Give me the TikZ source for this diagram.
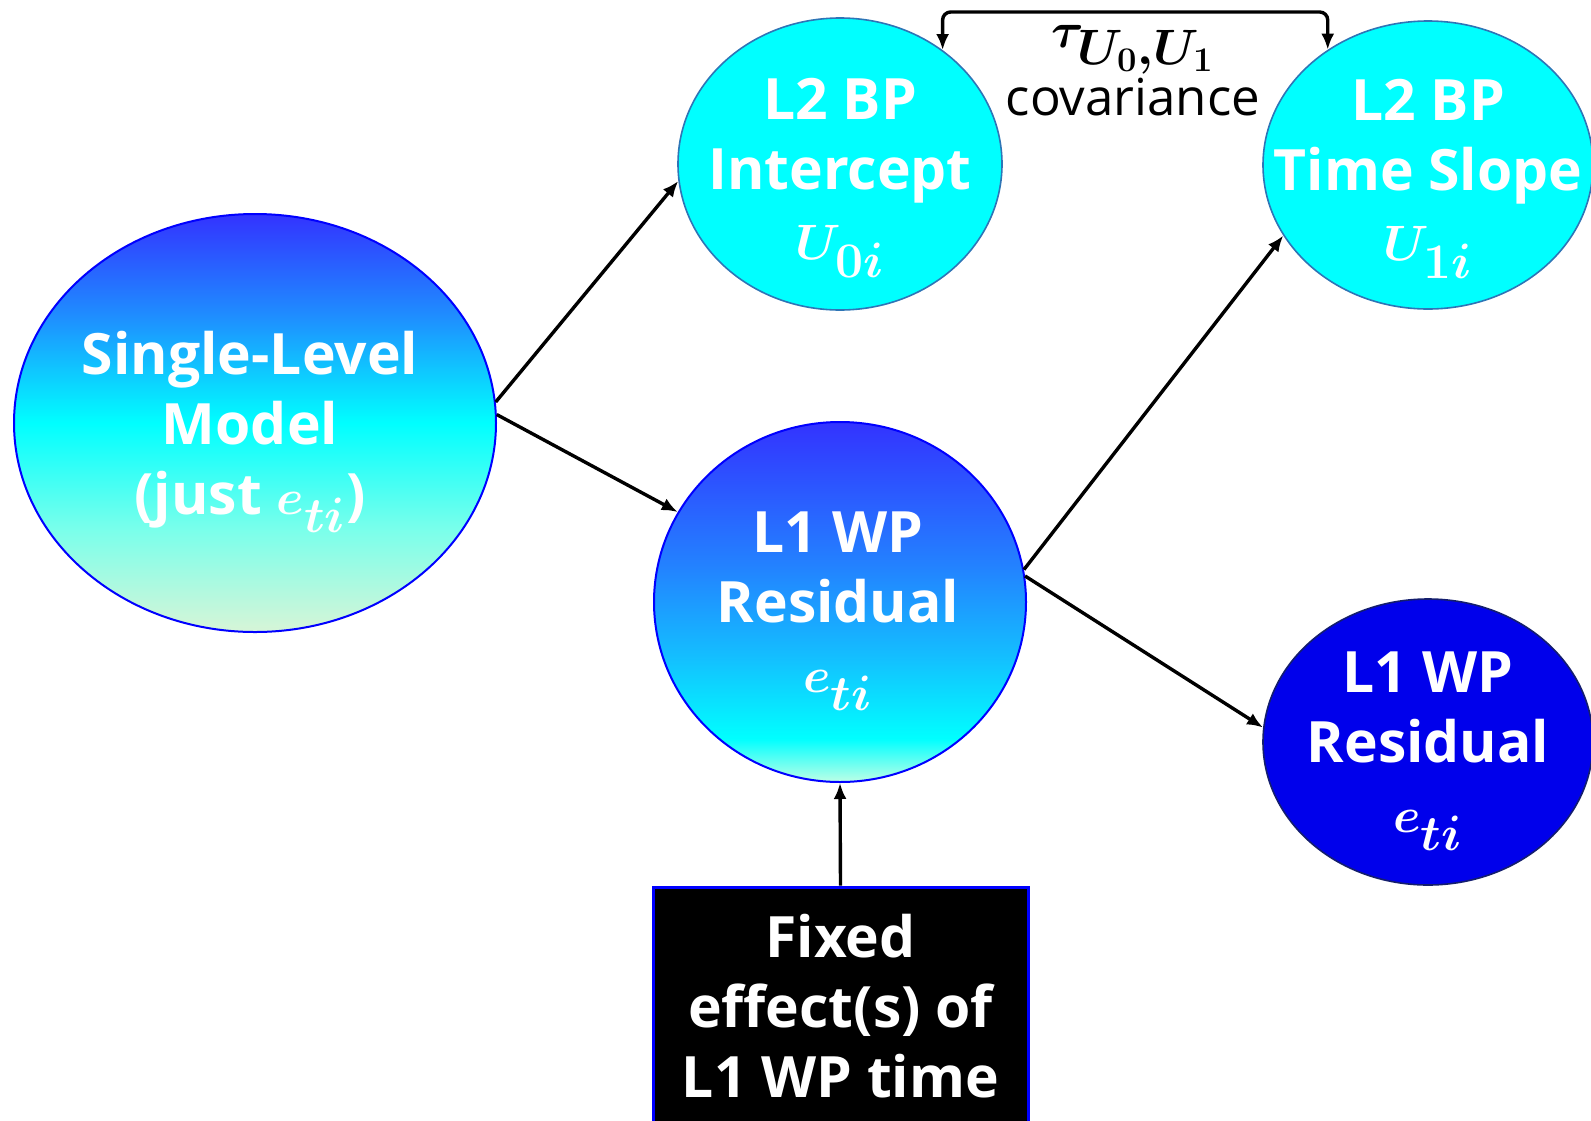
\documentclass[tikz,border=0pt]{standalone}
\usepackage{amsmath,amssymb,bm}
\usepackage{fontspec}
\setmainfont{Open Sans}
\usetikzlibrary{positioning,arrows.meta,shapes.geometric}

\definecolor{ovalblue}{RGB}{0,0,255}
\definecolor{deepblue}{RGB}{0,0,235}
\definecolor{navyedge}{RGB}{20,30,110}
\definecolor{skyedge}{RGB}{46,117,182}
\definecolor{aqua}{RGB}{0,255,255}
\definecolor{gtop}{RGB}{51,51,255}
\definecolor{gsky}{RGB}{30,144,255}
\definecolor{gmid}{RGB}{35,130,255}
\definecolor{gteal}{RGB}{20,190,255}
\definecolor{gmint}{RGB}{120,255,235}
\definecolor{gpale}{RGB}{215,245,215}
\definecolor{gfoam}{RGB}{190,255,230}

\pgfdeclareverticalshading{slmshade}{100bp}{color(0bp)=(gpale); color(25bp)=(gpale);
  color(37.5bp)=(gmint); color(50bp)=(aqua); color(62.5bp)=(gsky); color(75bp)=(gtop); color(100bp)=(gtop)}
\pgfdeclareverticalshading{resshade}{100bp}{color(0bp)=(gfoam); color(25bp)=(gfoam);
  color(31bp)=(aqua); color(42.5bp)=(gteal); color(55bp)=(gmid); color(75bp)=(gtop); color(100bp)=(gtop)}

\newcommand{\ovmath}[1]{{\fontsize{38}{35}\selectfont$\boldsymbol{#1}$}}

\begin{document}
\begin{tikzpicture}[x=0.5pt,y=-0.5pt,>=Latex,
  oval/.style={ellipse,inner sep=0pt},
  ovaltxt/.style={text=white,font=\bfseries\fontsize{28.5}{35}\selectfont,align=center,inner sep=0pt},
  conn/.style={-{Latex[length=8pt,width=6.5pt]},line width=1.7pt}]
\useasboundingbox (0,0) rectangle (1591,1120);

% ovals
\node[oval,draw=ovalblue,line width=1pt,shade,shading=slmshade,minimum width=241pt,minimum height=209pt] (slm) at (255,423) {};
\node[oval,draw=skyedge,line width=0.8pt,fill=aqua,minimum width=162pt,minimum height=146pt] (icpt) at (840,164) {};
\node[oval,draw=skyedge,line width=0.8pt,fill=aqua,minimum width=165pt,minimum height=144pt] (tslope) at (1428,165) {};
\node[oval,draw=ovalblue,line width=1pt,shade,shading=resshade,minimum width=186pt,minimum height=180pt] (mres) at (840,602) {};
\node[oval,draw=navyedge,line width=0.8pt,fill=deepblue,minimum width=165pt,minimum height=143pt] (rres) at (1428,742) {};
\node[draw=ovalblue,line width=1.5pt,fill=black,minimum width=187.5pt,minimum height=121.5pt] (fixbox) at (840.5,1008.5) {};

% texts
\node[ovaltxt] (slmtxt) at (250,432) {Single-Level\\Model\\(just \ovmath{e_{ti}})};
\node[ovaltxt] (icpttxt) at (840,178) {L2 BP\\Intercept\\\ovmath{U_{0i}}};
\node[ovaltxt] (tslopetxt) at (1428,179) {L2 BP\\Time Slope\\\ovmath{U_{1i}}};
\node[ovaltxt] (mrestxt) at (838,611) {L1 WP\\Residual\\\ovmath{e_{ti}}};
\node[ovaltxt] (rrestxt) at (1428,751) {L1 WP\\Residual\\\ovmath{e_{ti}}};
\node[ovaltxt] (fixtxt) at (840.5,1006) {Fixed\\effect(s) of\\L1 WP time};
\node[inner sep=0pt,anchor=base] (covtau) at (1133,47) {\ovmath{\tau_{U_0,U_1}}};
\node[inner sep=0pt,anchor=base,font=\fontsize{25.5}{30}\selectfont] (covword) at (1133,115) {covariance};
\coordinate (covtop) at (1133,12);

% connectors
\draw[conn] (slm.5) -- (icpt.186);
\draw[conn] (slm.2) -- (mres.151);
\draw[conn] (mres.10) -- (tslope.206);
\draw[conn] (mres.8) -- (rres.175);
\draw[conn] (fixbox.north) -- (mres.south);
\draw[{Latex[length=8pt,width=6.5pt]}-{Latex[length=8pt,width=6.5pt]},line width=1.7pt,rounded corners=4pt]
  (icpt.48) |- (covtop) -| (tslope.131);
\end{tikzpicture}
\end{document}
